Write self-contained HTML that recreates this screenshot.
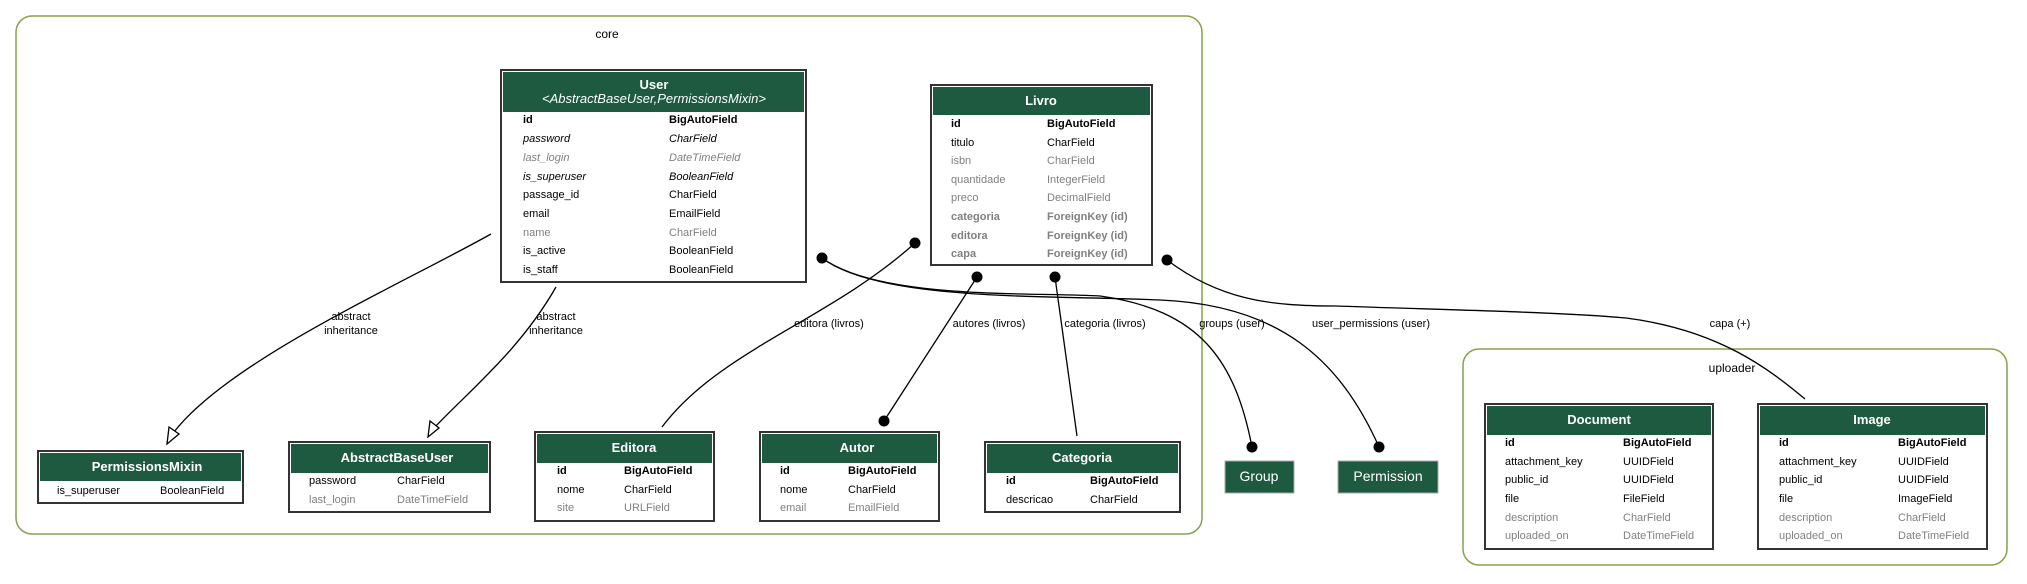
<!DOCTYPE html>
<html><head><meta charset="utf-8"><style>
html,body{margin:0;padding:0;background:#fff;}
svg text{font-family:"Liberation Sans","DejaVu Sans",sans-serif;}
.h{fill:#fff;font-size:13px;font-weight:bold;text-anchor:middle;}
.r{font-size:11px;fill:#000;}
.g{fill:#808080;}
.b{font-weight:bold;}
.i{font-style:italic;}
.l{font-size:11px;fill:#000;text-anchor:middle;}
.e{fill:none;stroke:#000;stroke-width:1.3;}
</style></head><body>
<svg width="2027" height="579" viewBox="0 0 2027 579" xmlns="http://www.w3.org/2000/svg">
<rect x="16" y="16" width="1186" height="518" rx="16" fill="none" stroke="#84a44a" stroke-width="1.5"/>
<text x="607" y="38" class="l" style="font-size:12px">core</text>
<rect x="1463" y="349" width="544" height="216" rx="16" fill="none" stroke="#84a44a" stroke-width="1.5"/>
<text x="1732" y="372" class="l" style="font-size:12px">uploader</text>

<!-- User -->
<rect x="501" y="70" width="305" height="212" fill="#fff" stroke="#333" stroke-width="2"/>
<rect x="503" y="72" width="301" height="40" fill="#1e5a40"/>
<text x="654" y="89" class="h">User</text>
<text x="654" y="103" class="h" style="font-weight:normal;font-style:italic">&lt;AbstractBaseUser,PermissionsMixin&gt;</text>
<text x="523" y="123" class="r b">id</text><text x="669" y="123" class="r b">BigAutoField</text>
<text x="523" y="142" class="r i">password</text><text x="669" y="142" class="r i">CharField</text>
<text x="523" y="161" class="r i g">last_login</text><text x="669" y="161" class="r i g">DateTimeField</text>
<text x="523" y="180" class="r i">is_superuser</text><text x="669" y="180" class="r i">BooleanField</text>
<text x="523" y="198" class="r">passage_id</text><text x="669" y="198" class="r">CharField</text>
<text x="523" y="217" class="r">email</text><text x="669" y="217" class="r">EmailField</text>
<text x="523" y="236" class="r g">name</text><text x="669" y="236" class="r g">CharField</text>
<text x="523" y="254" class="r">is_active</text><text x="669" y="254" class="r">BooleanField</text>
<text x="523" y="273" class="r">is_staff</text><text x="669" y="273" class="r">BooleanField</text>

<!-- Livro -->
<rect x="931" y="85" width="221" height="180" fill="#fff" stroke="#333" stroke-width="2"/>
<rect x="933" y="87" width="217" height="28" fill="#1e5a40"/>
<text x="1041" y="105" class="h">Livro</text>
<text x="951" y="127" class="r b">id</text><text x="1047" y="127" class="r b">BigAutoField</text>
<text x="951" y="146" class="r">titulo</text><text x="1047" y="146" class="r">CharField</text>
<text x="951" y="164" class="r g">isbn</text><text x="1047" y="164" class="r g">CharField</text>
<text x="951" y="183" class="r g">quantidade</text><text x="1047" y="183" class="r g">IntegerField</text>
<text x="951" y="201" class="r g">preco</text><text x="1047" y="201" class="r g">DecimalField</text>
<text x="951" y="220" class="r g b">categoria</text><text x="1047" y="220" class="r g b">ForeignKey (id)</text>
<text x="951" y="239" class="r g b">editora</text><text x="1047" y="239" class="r g b">ForeignKey (id)</text>
<text x="951" y="257" class="r g b">capa</text><text x="1047" y="257" class="r g b">ForeignKey (id)</text>

<!-- PermissionsMixin -->
<rect x="38" y="451" width="205" height="52" fill="#fff" stroke="#333" stroke-width="2"/>
<rect x="40" y="453" width="201" height="28" fill="#1e5a40"/>
<text x="147" y="471" class="h">PermissionsMixin</text>
<text x="57" y="494" class="r">is_superuser</text><text x="160" y="494" class="r">BooleanField</text>

<!-- AbstractBaseUser -->
<rect x="289" y="442" width="201" height="70" fill="#fff" stroke="#333" stroke-width="2"/>
<rect x="291" y="444" width="197" height="29" fill="#1e5a40"/>
<text x="397" y="462" class="h">AbstractBaseUser</text>
<text x="309" y="484" class="r">password</text><text x="397" y="484" class="r">CharField</text>
<text x="309" y="503" class="r g">last_login</text><text x="397" y="503" class="r g">DateTimeField</text>

<!-- Editora -->
<rect x="535" y="432" width="179" height="89" fill="#fff" stroke="#333" stroke-width="2"/>
<rect x="537" y="434" width="175" height="29" fill="#1e5a40"/>
<text x="634" y="452" class="h">Editora</text>
<text x="557" y="474" class="r b">id</text><text x="624" y="474" class="r b">BigAutoField</text>
<text x="557" y="493" class="r">nome</text><text x="624" y="493" class="r">CharField</text>
<text x="557" y="511" class="r g">site</text><text x="624" y="511" class="r g">URLField</text>

<!-- Autor -->
<rect x="760" y="432" width="179" height="89" fill="#fff" stroke="#333" stroke-width="2"/>
<rect x="762" y="434" width="175" height="29" fill="#1e5a40"/>
<text x="857" y="452" class="h">Autor</text>
<text x="780" y="474" class="r b">id</text><text x="848" y="474" class="r b">BigAutoField</text>
<text x="780" y="493" class="r">nome</text><text x="848" y="493" class="r">CharField</text>
<text x="780" y="511" class="r g">email</text><text x="848" y="511" class="r g">EmailField</text>

<!-- Categoria -->
<rect x="985" y="442" width="195" height="70" fill="#fff" stroke="#333" stroke-width="2"/>
<rect x="987" y="444" width="191" height="29" fill="#1e5a40"/>
<text x="1082" y="462" class="h">Categoria</text>
<text x="1006" y="484" class="r b">id</text><text x="1090" y="484" class="r b">BigAutoField</text>
<text x="1006" y="503" class="r">descricao</text><text x="1090" y="503" class="r">CharField</text>

<!-- Group / Permission -->
<rect x="1225" y="461" width="69" height="32" fill="#1e5a40" stroke="#aaa" stroke-width="1"/>
<text x="1259" y="481" class="h" style="font-weight:normal;font-size:14px">Group</text>
<rect x="1338" y="461" width="100" height="32" fill="#1e5a40" stroke="#aaa" stroke-width="1"/>
<text x="1388" y="481" class="h" style="font-weight:normal;font-size:14px">Permission</text>

<!-- Document -->
<rect x="1485" y="404" width="228" height="145" fill="#fff" stroke="#333" stroke-width="2"/>
<rect x="1487" y="406" width="224" height="29" fill="#1e5a40"/>
<text x="1599" y="424" class="h">Document</text>
<text x="1505" y="446" class="r b">id</text><text x="1623" y="446" class="r b">BigAutoField</text>
<text x="1505" y="465" class="r">attachment_key</text><text x="1623" y="465" class="r">UUIDField</text>
<text x="1505" y="483" class="r">public_id</text><text x="1623" y="483" class="r">UUIDField</text>
<text x="1505" y="502" class="r">file</text><text x="1623" y="502" class="r">FileField</text>
<text x="1505" y="521" class="r g">description</text><text x="1623" y="521" class="r g">CharField</text>
<text x="1505" y="539" class="r g">uploaded_on</text><text x="1623" y="539" class="r g">DateTimeField</text>

<!-- Image -->
<rect x="1758" y="404" width="229" height="145" fill="#fff" stroke="#333" stroke-width="2"/>
<rect x="1760" y="406" width="225" height="29" fill="#1e5a40"/>
<text x="1872" y="424" class="h">Image</text>
<text x="1779" y="446" class="r b">id</text><text x="1898" y="446" class="r b">BigAutoField</text>
<text x="1779" y="465" class="r">attachment_key</text><text x="1898" y="465" class="r">UUIDField</text>
<text x="1779" y="483" class="r">public_id</text><text x="1898" y="483" class="r">UUIDField</text>
<text x="1779" y="502" class="r">file</text><text x="1898" y="502" class="r">ImageField</text>
<text x="1779" y="521" class="r g">description</text><text x="1898" y="521" class="r g">CharField</text>
<text x="1779" y="539" class="r g">uploaded_on</text><text x="1898" y="539" class="r g">DateTimeField</text>

<!-- edges -->
<path class="e" d="M491,234 C400,285 230,360 174,432"/>
<polygon points="167,444 169,427 179,434" fill="#fff" stroke="#000" stroke-width="1.3"/>
<text x="351" y="320" class="l">abstract</text><text x="351" y="334" class="l">inheritance</text>
<path class="e" d="M556,287 C520,350 470,390 434,428"/>
<polygon points="428,437 430,421 439,428" fill="#fff" stroke="#000" stroke-width="1.3"/>
<text x="556" y="320" class="l">abstract</text><text x="556" y="334" class="l">inheritance</text>

<path class="e" d="M915,243 C830,320 720,350 662,427"/>
<circle cx="915" cy="243" r="5.5"/>
<text x="829" y="327" class="l">editora (livros)</text>

<path class="e" d="M977,277 L884,421"/>
<circle cx="977" cy="277" r="5.5"/><circle cx="884" cy="421" r="5.5"/>
<text x="989" y="327" class="l">autores (livros)</text>

<path class="e" d="M1055,277 L1077,436"/>
<circle cx="1055" cy="277" r="5.5"/>
<text x="1105" y="327" class="l">categoria (livros)</text>

<path class="e" d="M822,258 C880,300 1030,292 1100,296 C1200,310 1235,360 1252,447"/>
<path class="e" d="M822,258 C880,302 1050,295 1160,300 C1280,305 1340,360 1379,447"/>
<circle cx="822" cy="258" r="5.5"/>
<circle cx="1252" cy="447" r="5.5"/><circle cx="1379" cy="447" r="5.5"/>
<text x="1232" y="327" class="l">groups (user)</text>
<text x="1371" y="327" class="l">user_permissions (user)</text>

<path class="e" d="M1167,260 C1220,300 1270,306 1336,306 C1450,310 1560,312 1626,318 C1720,330 1770,370 1805,399"/>
<circle cx="1167" cy="260" r="5.5"/>
<text x="1730" y="327" class="l">capa (+)</text>
</svg>
</body></html>
